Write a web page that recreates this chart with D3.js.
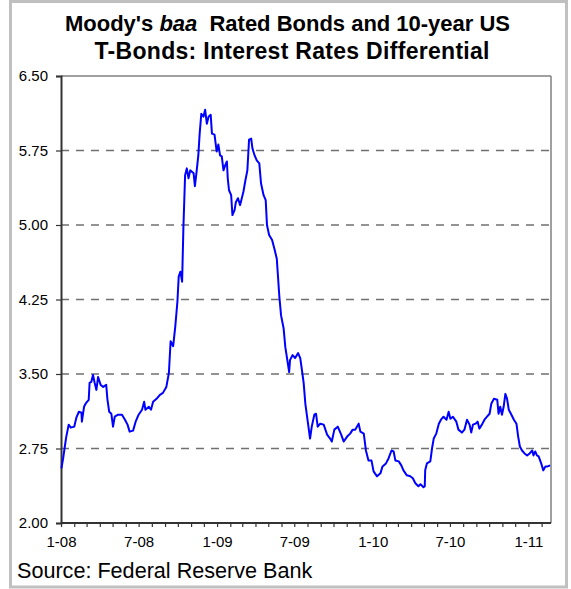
<!DOCTYPE html>
<html>
<head>
<meta charset="utf-8">
<script src="https://cdn.jsdelivr.net/npm/d3@7"></script>
<style>
  html, body { margin: 0; padding: 0; background: #fff; }
  svg { display: block; }
  text { font-family: "Liberation Sans", Arial, sans-serif; }
</style>
</head>
<body>
<svg id="chart" width="571" height="589"></svg>
<script>
// ---- data ----
const dates = [
 "2008-01-02","2008-01-06","2008-01-10","2008-01-13","2008-01-19","2008-01-24","2008-02-01","2008-02-06","2008-02-12","2008-02-18",
 "2008-02-19","2008-02-24","2008-02-29","2008-03-06","2008-03-08","2008-03-12","2008-03-16","2008-03-20","2008-03-24","2008-03-28",
 "2008-04-03","2008-04-09","2008-04-16","2008-04-19","2008-04-23","2008-04-28","2008-05-02","2008-05-06","2008-05-14","2008-05-23",
 "2008-05-30","2008-06-05","2008-06-10","2008-06-18","2008-06-24","2008-07-01","2008-07-09","2008-07-14","2008-07-17","2008-07-25",
 "2008-07-30","2008-08-04","2008-08-12","2008-08-20","2008-08-27","2008-09-04","2008-09-10","2008-09-14","2008-09-20","2008-09-25",
 "2008-09-30","2008-10-03","2008-10-07","2008-10-11","2008-10-14","2008-10-18","2008-10-22","2008-10-26","2008-10-30","2008-11-07",
 "2008-11-10","2008-11-14","2008-11-18","2008-11-21","2008-11-25","2008-11-30","2008-12-04","2008-12-08","2008-12-12","2008-12-17",
 "2008-12-20","2008-12-26","2008-12-31","2009-01-04","2009-01-08","2009-01-12","2009-01-16","2009-01-20","2009-01-24","2009-01-26",
 "2009-01-29","2009-02-03","2009-02-06","2009-02-11","2009-02-14","2009-02-19","2009-02-24","2009-03-04","2009-03-08","2009-03-13",
 "2009-03-17","2009-03-22","2009-03-25","2009-03-30","2009-04-04","2009-04-10","2009-04-14","2009-04-20","2009-04-25","2009-04-28",
 "2009-05-03","2009-05-10","2009-05-16","2009-05-21","2009-05-27","2009-05-31","2009-06-06","2009-06-10","2009-06-14","2009-06-19",
 "2009-06-21","2009-06-27","2009-07-03","2009-07-10","2009-07-15","2009-07-19","2009-07-23","2009-07-27","2009-08-01","2009-08-07",
 "2009-08-11","2009-08-17","2009-08-21","2009-08-25","2009-08-31","2009-09-08","2009-09-16","2009-09-23","2009-09-27","2009-10-03",
 "2009-10-11","2009-10-19","2009-10-25","2009-11-02","2009-11-09","2009-11-15","2009-11-21","2009-11-29","2009-12-03","2009-12-11",
 "2009-12-16","2009-12-22","2009-12-29","2010-01-03","2010-01-11","2010-01-19","2010-01-24","2010-02-01","2010-02-07","2010-02-14",
 "2010-02-19","2010-02-23","2010-03-03","2010-03-09","2010-03-14","2010-03-22","2010-03-30","2010-04-05","2010-04-11","2010-04-18",
 "2010-04-23","2010-04-30","2010-05-03","2010-05-04","2010-05-08","2010-05-16","2010-05-20","2010-05-24","2010-05-30","2010-06-05",
 "2010-06-10","2010-06-16","2010-06-23","2010-06-28","2010-07-02","2010-07-08","2010-07-16","2010-07-21","2010-07-29","2010-08-04",
 "2010-08-10","2010-08-16","2010-08-20","2010-08-24","2010-08-30","2010-09-04","2010-09-08","2010-09-14","2010-09-20","2010-09-26",
 "2010-10-02","2010-10-06","2010-10-12","2010-10-20","2010-10-23","2010-10-27","2010-10-31","2010-11-04","2010-11-08","2010-11-12",
 "2010-11-16","2010-11-21","2010-11-28","2010-12-04","2010-12-08","2010-12-12","2010-12-17","2010-12-23","2010-12-29","2011-01-04",
 "2011-01-10","2011-01-13","2011-01-17","2011-01-21","2011-01-25","2011-01-31","2011-02-05","2011-02-10","2011-02-15","2011-02-21"
];
const spread = [
 2.55,2.65,2.77,2.86,2.99,2.96,2.97,3.06,3.12,3.11,
 3.02,3.17,3.21,3.24,3.41,3.42,3.49,3.41,3.34,3.47,
 3.39,3.37,3.39,3.24,3.12,3.10,2.97,3.07,3.09,3.09,
 3.04,2.99,2.92,2.93,3.02,3.09,3.14,3.22,3.14,3.17,
 3.14,3.22,3.25,3.29,3.31,3.37,3.51,3.83,3.78,3.98,
 4.23,4.48,4.53,4.43,4.97,5.50,5.57,5.47,5.55,5.52,
 5.39,5.54,5.70,5.91,6.12,6.09,6.16,6.02,6.09,6.11,
 5.92,5.91,5.74,5.81,5.70,5.69,5.55,5.60,5.64,5.47,
 5.35,5.30,5.10,5.15,5.23,5.27,5.20,5.34,5.44,5.55,
 5.86,5.87,5.77,5.70,5.65,5.62,5.42,5.30,5.25,5.00,
 4.90,4.85,4.75,4.66,4.28,4.09,3.96,3.77,3.66,3.52,
 3.64,3.69,3.66,3.71,3.66,3.54,3.41,3.20,3.04,2.85,
 2.97,3.09,3.10,2.97,3.00,2.99,2.89,2.85,2.82,2.94,
 2.97,2.89,2.82,2.87,2.90,2.94,2.94,3.00,2.92,2.90,
 2.73,2.63,2.63,2.52,2.47,2.50,2.57,2.60,2.65,2.73,
 2.72,2.63,2.62,2.58,2.53,2.48,2.47,2.45,2.40,2.37,
 2.39,2.36,2.37,2.53,2.60,2.62,2.75,2.85,2.90,3.00,
 3.04,3.07,3.04,3.12,3.05,3.07,3.02,2.94,2.91,2.94,
 3.04,2.99,2.91,2.99,3.00,3.02,2.95,2.99,3.04,3.07,
 3.10,3.20,3.25,3.24,3.10,3.17,3.09,3.17,3.30,3.25,
 3.14,3.10,3.04,3.00,2.87,2.77,2.73,2.70,2.68,2.70,
 2.73,2.68,2.72,2.68,2.67,2.60,2.53,2.57,2.57,2.58
];
const yTicks = [2.00, 2.75, 3.50, 4.25, 5.00, 5.75, 6.50];
const xStart = "2008-01-01";
const xEnd = "2011-02-23";
const titleLine1 = ["Moody's ", "baa", "  Rated Bonds and 10-year US"];
const titleLine2 = "T-Bonds: Interest Rates Differential";
const sourceText = "Source: Federal Reserve Bank";

// ---- drawing ----
const parse = d3.timeParse("%Y-%m-%d");
const data = dates.map((d, i) => ({ date: parse(d), value: spread[i] }));

const svg = d3.select("#chart");
const L = 61, R = 551, T = 76, B = 523;

const x = d3.scaleTime().domain([parse(xStart), parse(xEnd)]).range([L, R]);
const y = d3.scaleLinear().domain([2, 6.5]).range([B, T]);

// outer frame
svg.append("rect")
  .attr("x", 10.5).attr("y", 1.5)
  .attr("width", 556).attr("height", 585.5)
  .attr("fill", "#fff").attr("stroke", "#c0c0c0").attr("stroke-width", 3);

// title
const t1 = svg.append("text")
  .attr("x", 287.5).attr("y", 31)
  .attr("text-anchor", "middle")
  .attr("textLength", 445).attr("lengthAdjust", "spacing")
  .attr("font-size", 22).attr("font-weight", "bold").attr("fill", "#000")
  .style("white-space", "pre");
t1.append("tspan").text(titleLine1[0]);
t1.append("tspan").attr("font-style", "italic").text(titleLine1[1]);
t1.append("tspan").text(titleLine1[2]);
svg.append("text")
  .attr("x", 292).attr("y", 59)
  .attr("text-anchor", "middle")
  .attr("textLength", 395).attr("lengthAdjust", "spacing")
  .attr("font-size", 23).attr("font-weight", "bold").attr("fill", "#000")
  .text(titleLine2);

// gridlines
svg.append("g")
  .selectAll("line")
  .data(yTicks.filter(v => v > 2 && v < 6.5))
  .join("line")
  .attr("x1", L).attr("x2", R)
  .attr("y1", d => y(d)).attr("y2", d => y(d))
  .attr("stroke", "#707070").attr("stroke-width", 1.6)
  .attr("stroke-dasharray", "8,7");

// plot border top & right
svg.append("line").attr("x1", L).attr("x2", R).attr("y1", y(6.5)).attr("y2", y(6.5))
  .attr("stroke", "#808080").attr("stroke-width", 1.5);
svg.append("line").attr("x1", R).attr("x2", R).attr("y1", y(6.5)).attr("y2", y(2))
  .attr("stroke", "#808080").attr("stroke-width", 1.5);

// y axis
const yAxis = d3.axisLeft(y).tickValues(yTicks).tickFormat(d3.format(".2f")).tickSize(5).tickPadding(8);
const gy = svg.append("g").attr("transform", `translate(${L},0)`).call(yAxis);
gy.select(".domain").attr("stroke", "#333").attr("stroke-width", 2);
gy.selectAll(".tick line").attr("stroke", "#333").attr("stroke-width", 1.2);
gy.selectAll(".tick text").attr("font-size", 15).attr("fill", "#000")
  .style("font-family", "'Liberation Sans', Arial, sans-serif");

// x axis
const months = d3.timeMonth.range(parse(xStart), parse(xEnd));
const fmt = d => (d.getMonth() === 0 || d.getMonth() === 6)
  ? (d.getMonth() + 1) + "-" + String(d.getFullYear()).slice(2) : "";
const xAxis = d3.axisBottom(x).tickValues(months).tickFormat(fmt).tickSize(4).tickPadding(9);
const gx = svg.append("g").attr("transform", `translate(0,${B})`).call(xAxis);
gx.select(".domain").attr("stroke", "#333").attr("stroke-width", 2).attr("d", `M${L},0H${R}`);
gx.selectAll(".tick line").attr("stroke", "#333").attr("stroke-width", 1.2);
gx.selectAll(".tick text").attr("font-size", 15).attr("fill", "#000")
  .style("font-family", "'Liberation Sans', Arial, sans-serif");

// series line
svg.append("path")
  .datum(data)
  .attr("fill", "none")
  .attr("stroke", "#0000ff")
  .attr("stroke-width", 2)
  .attr("stroke-linejoin", "round")
  .attr("d", d3.line().x(d => x(d.date)).y(d => y(d.value)));

// source
svg.append("text")
  .attr("x", 17).attr("y", 578)
  .attr("font-size", 21.6).attr("fill", "#000")
  .text(sourceText);
</script>
</body>
</html>
